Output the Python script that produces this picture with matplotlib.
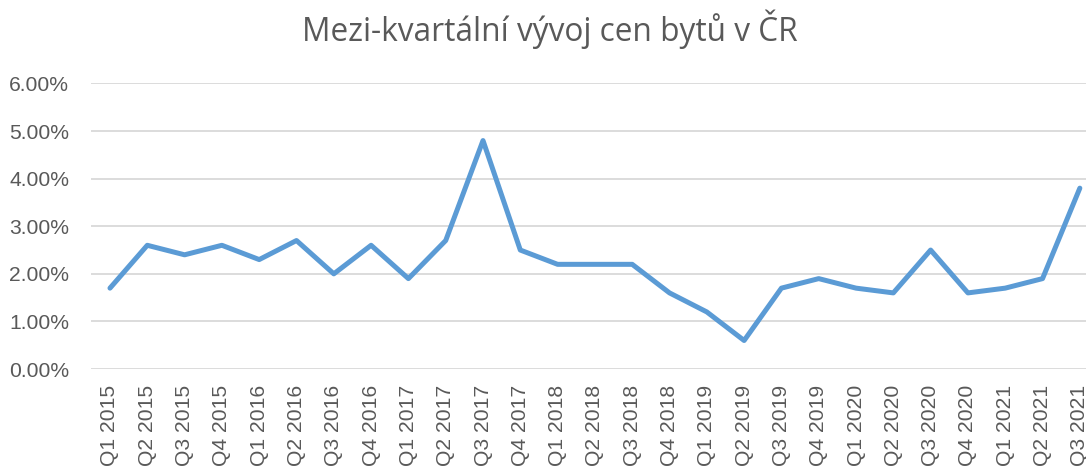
import matplotlib.pyplot as plt
import numpy as np
from matplotlib.ticker import FuncFormatter, MultipleLocator

# Quarter labels and quarter-on-quarter change of flat prices (%)
quarters = ["Q1 2015", "Q2 2015", "Q3 2015", "Q4 2015",
            "Q1 2016", "Q2 2016", "Q3 2016", "Q4 2016",
            "Q1 2017", "Q2 2017", "Q3 2017", "Q4 2017",
            "Q1 2018", "Q2 2018", "Q3 2018", "Q4 2018",
            "Q1 2019", "Q2 2019", "Q3 2019", "Q4 2019",
            "Q1 2020", "Q2 2020", "Q3 2020", "Q4 2020",
            "Q1 2021", "Q2 2021", "Q3 2021"]
change = [1.7, 2.6, 2.4, 2.6,
          2.3, 2.7, 2.0, 2.6,
          1.9, 2.7, 4.8, 2.5,
          2.2, 2.2, 2.2, 1.6,
          1.2, 0.6, 1.7, 1.9,
          1.7, 1.6, 2.5, 1.6,
          1.7, 1.9, 3.8]

text_grey = "#595959"
line_blue = "#5B9BD5"

fig = plt.figure(figsize=(10.86, 4.66), dpi=100)
# axes run past the right edge, like the cropped Excel chart
ax = fig.add_axes([0.0841, 0.208, 0.9274, 0.613])

x = np.arange(len(quarters))
ax.plot(x, change, color=line_blue, linewidth=3.6,
        solid_joinstyle="round", solid_capstyle="round", zorder=3)

ax.set_xlim(-0.5, len(quarters) - 0.5)
ax.set_ylim(0, 6)
ax.yaxis.set_major_locator(MultipleLocator(1))
ax.yaxis.set_major_formatter(FuncFormatter(lambda v, p: f"{v:.2f}%"))
ax.grid(axis="y", color="#D9D9D9", linewidth=1.3)
ax.set_axisbelow(True)

ax.set_xticks(x)
ax.set_xticklabels(quarters, rotation=90, va="top", ha="center")
ax.tick_params(axis="both", length=0, colors=text_grey)
ax.tick_params(axis="y", pad=16)
ax.tick_params(axis="x", pad=11.5)
for lab in ax.get_xticklabels() + ax.get_yticklabels():
    lab.set_fontfamily("Liberation Sans")
    lab.set_fontsize(15.2)

for s in ax.spines.values():
    s.set_visible(False)

fig.text(0.506, 0.938, "Mezi-kvartální vývoj cen bytů v ČR", ha="center", va="center",
         fontsize=22.8, color=text_grey, family="Open Sans")

fig.savefig("out.png", dpi=100)
